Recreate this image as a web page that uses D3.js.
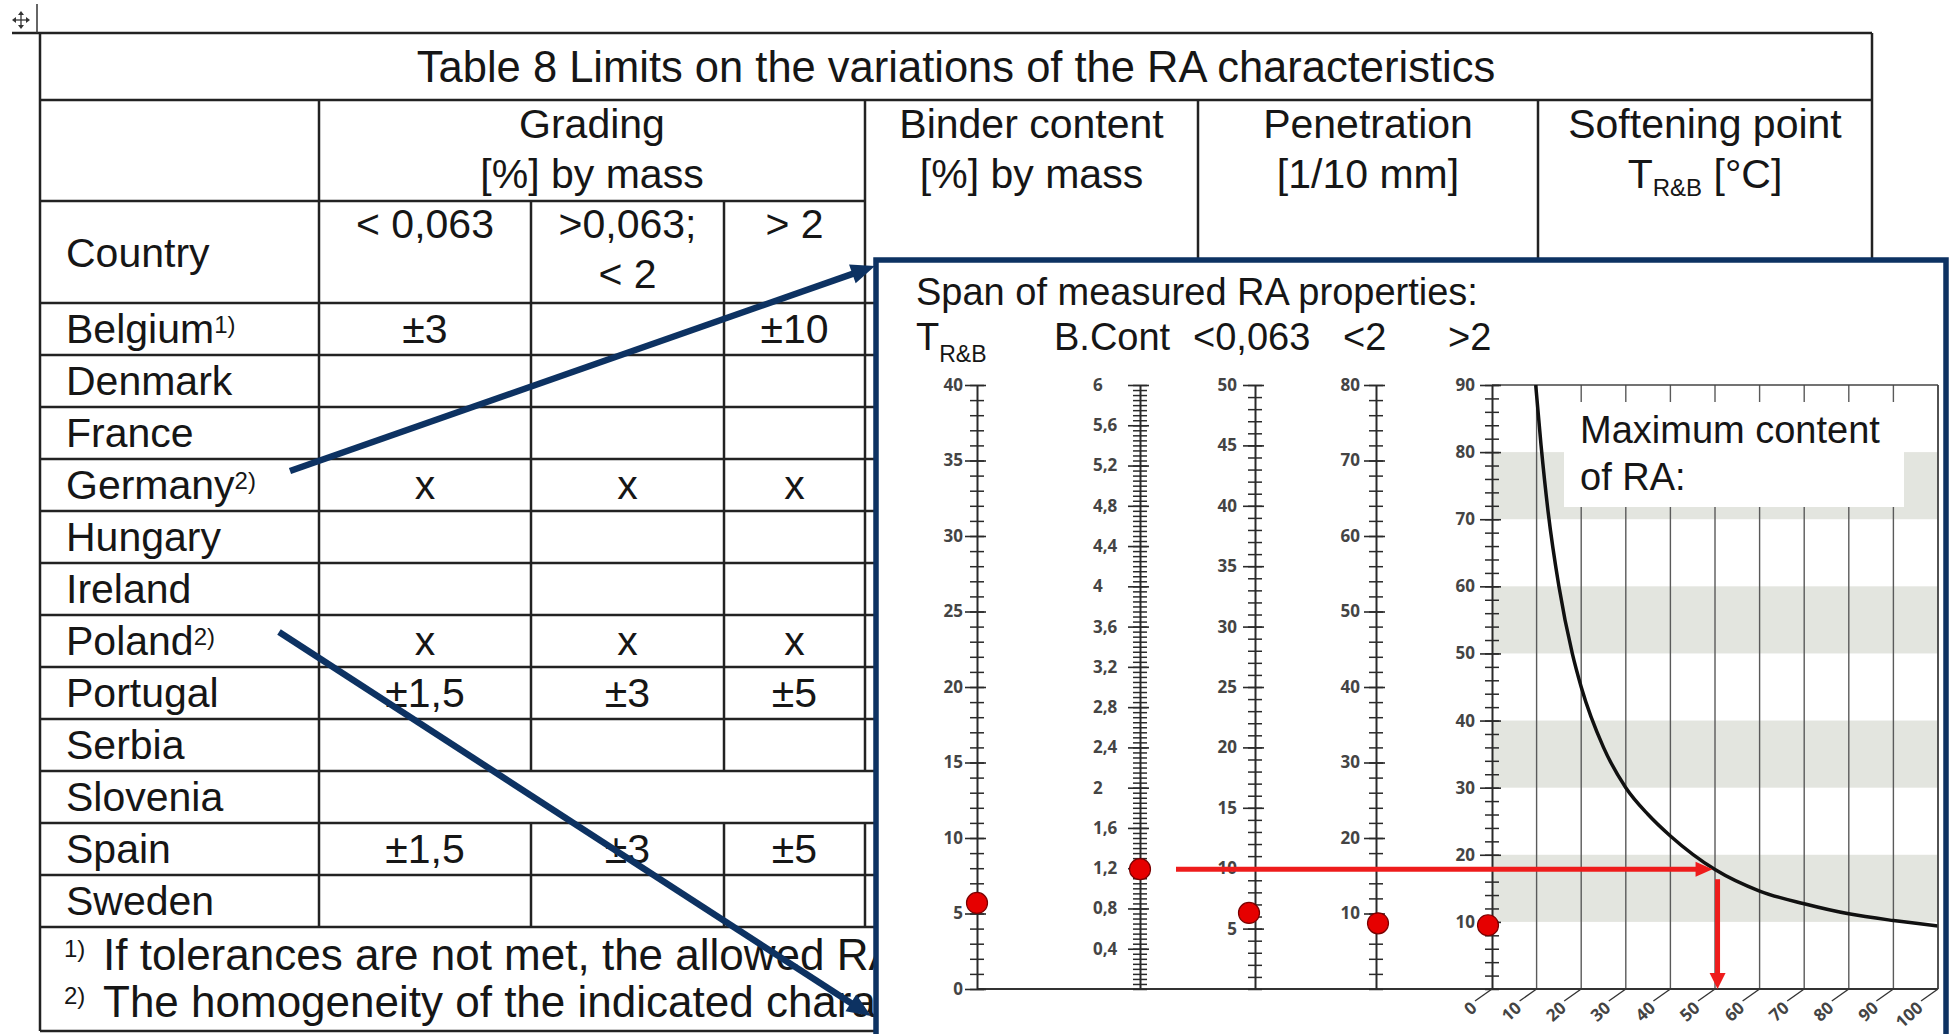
<!DOCTYPE html>
<html>
<head>
<meta charset="utf-8">
<script src="https://cdn.jsdelivr.net/npm/d3@7"></script>
<style>
  html, body { margin: 0; padding: 0; background: #fff; }
  svg { display: block; }
</style>
</head>
<body>
<svg id="fig" width="1953" height="1034"></svg>
<script>
// ---- table content ----
const tableTitle = 'Table 8 Limits on the variations of the RA characteristics';
const countries  = ['Belgium', 'Denmark', 'France', 'Germany', 'Hungary', 'Ireland',
                    'Poland', 'Portugal', 'Serbia', 'Slovenia', 'Spain', 'Sweden'];
const countryNote = ['1)', '', '', '2)', '', '', '2)', '', '', '', '', ''];
const gradeFine   = ['±3',  '', '', 'x', '', '', 'x', '±1,5', '', '', '±1,5', ''];
const gradeMid    = ['',    '', '', 'x', '', '', 'x', '±3',   '', '', '±3',   ''];
const gradeCoarse = ['±10', '', '', 'x', '', '', 'x', '±5',   '', '', '±5',   ''];
const mergedRows  = ['Slovenia'];
const footnotes = [
  ['1)', 'If tolerances are not met, the allowed RA'],
  ['2)', 'The homogeneity of the indicated charac']
];

// ---- nomogram content ----
const axisNames  = ['T', 'B.Cont', '<0,063', '<2', '>2'];
const axisMax    = [40, 6, 50, 80, 90];
const axisMinor  = [1, 0.05, 1, 2, 2];
const tTicks     = [0, 5, 10, 15, 20, 25, 30, 35, 40];
const bTicks     = [0.4, 0.8, 1.2, 1.6, 2, 2.4, 2.8, 3.2, 3.6, 4, 4.4, 4.8, 5.2, 5.6, 6];
const fineTicks  = [5, 10, 15, 20, 25, 30, 35, 40, 45, 50];
const midTicks   = [10, 20, 30, 40, 50, 60, 70, 80];
const maxTicks   = [10, 20, 30, 40, 50, 60, 70, 80, 90];
const measured   = [5.7, 1.19, 6.3, 8.7, 9.5];
const xTicks     = [0, 10, 20, 30, 40, 50, 60, 70, 80, 90, 100];
const bands      = [[10, 20], [30, 40], [50, 60], [70, 80]];
const curveX     = [9.8, 11, 12.6, 15, 18, 20, 25, 30, 35, 40, 50, 60, 70, 80, 90, 100];
const curveY     = [90, 81, 71, 60, 50, 45, 36, 30, 26, 22.8, 17.8, 14.6, 12.7, 11.2, 10.2, 9.4];

const svg  = d3.select('#fig');
const ink  = '#161616';
const navy = '#0d3262';
const sans = '"Liberation Sans", Arial, sans-serif';
const tickFont = '"Open Sans", sans-serif';

// ================= table =================
const T = svg.append('g');
const colX = [40, 319, 531, 724, 865, 1198, 1538, 1872];
const yTop = 33, yTitle = 100, yHead1 = 201, yHead2 = 303, yBody = 927, yEnd = 1031;
const rowY = d3.scaleBand().domain(countries).range([yHead2, yBody]);

const hline = (x1, x2, y) => T.append('line')
  .attr('x1', x1).attr('x2', x2).attr('y1', y).attr('y2', y)
  .attr('stroke', '#222').attr('stroke-width', 2.5);
const vline = (x, y1, y2) => T.append('line')
  .attr('x1', x).attr('x2', x).attr('y1', y1).attr('y2', y2)
  .attr('stroke', '#222').attr('stroke-width', 2.5);
const txt = (x, y, s, anchor = 'middle', size = 41, parent = T) => parent.append('text')
  .attr('x', x).attr('y', y).attr('text-anchor', anchor)
  .style('font-family', sans).style('font-size', size + 'px').style('fill', ink)
  .text(s);

// outer frame and header lines
hline(12, colX[7], yTop);
hline(colX[0], colX[7], yTitle);
hline(colX[0], colX[4], yHead1);
hline(colX[0], colX[7], yHead2);
vline(colX[0], yTop, yEnd);
vline(colX[7], yTop, yEnd);
vline(colX[1], yTitle, yHead2);
[colX[2], colX[3]].forEach(x => vline(x, yHead1, yHead2));
[colX[4], colX[5], colX[6]].forEach(x => vline(x, yTitle, yHead2));
hline(colX[0], colX[7], yEnd);

// body rows
countries.forEach((c, i) => {
  const y0 = rowY(c), y1 = y0 + rowY.bandwidth();
  hline(colX[0], colX[7], y1);
  const inner = mergedRows.includes(c) ? [colX[1], colX[6]] : colX.slice(1, 7);
  inner.forEach(x => vline(x, y0, y1));
  const t = txt(66, y0 + 40, c, 'start');
  if (countryNote[i]) t.append('tspan').attr('dy', -10).style('font-size', '24px').text(countryNote[i]);
  [gradeFine, gradeMid, gradeCoarse].forEach((col, k) => {
    if (col[i]) txt((colX[k + 1] + colX[k + 2]) / 2, y0 + 40, col[i]);
  });
});

// header texts
txt((colX[0] + colX[7]) / 2, 82, tableTitle, 'middle', 43.5);
txt((colX[1] + colX[4]) / 2, 138, 'Grading');
txt((colX[1] + colX[4]) / 2, 188, '[%] by mass');
txt((colX[4] + colX[5]) / 2, 138, 'Binder content');
txt((colX[4] + colX[5]) / 2, 188, '[%] by mass');
txt((colX[5] + colX[6]) / 2, 138, 'Penetration');
txt((colX[5] + colX[6]) / 2, 188, '[1/10 mm]');
txt((colX[6] + colX[7]) / 2, 138, 'Softening point');
const soft = txt((colX[6] + colX[7]) / 2, 188, 'T');
soft.append('tspan').attr('dy', 8).style('font-size', '24px').text('R&B');
soft.append('tspan').attr('dy', -8).text(' [°C]');
txt(66, 267, 'Country', 'start');
txt((colX[1] + colX[2]) / 2, 238, '< 0,063');
txt((colX[2] + colX[3]) / 2, 238, '>0,063;');
txt((colX[2] + colX[3]) / 2, 288, '< 2');
txt((colX[3] + colX[4]) / 2, 238, '> 2');

// footnotes (run under the overlay, clipped at its edge)
svg.append('clipPath').attr('id', 'noteClip').append('rect')
  .attr('x', 0).attr('y', yBody).attr('width', 876).attr('height', yEnd - yBody);
const F = T.append('g').attr('clip-path', 'url(#noteClip)');
footnotes.forEach((f, i) => {
  const y = 970 + i * 47;
  txt(64, y - 13, f[0], 'start', 24, F);
  txt(103, y, f[1], 'start', 44, F);
});

// move handle
const mh = svg.append('g').attr('stroke', '#333').attr('stroke-width', 1.3).attr('fill', '#333');
mh.append('line').attr('x1', 14).attr('x2', 28).attr('y1', 20).attr('y2', 20);
mh.append('line').attr('x1', 21).attr('x2', 21).attr('y1', 13).attr('y2', 27);
[[21, 11, 18, 15, 24, 15], [21, 29, 18, 25, 24, 25], [12, 20, 16, 17, 16, 23], [30, 20, 26, 17, 26, 23]]
  .forEach(p => mh.append('polygon').attr('points', `${p[0]},${p[1]} ${p[2]},${p[3]} ${p[4]},${p[5]}`).attr('stroke', 'none'));
svg.append('line').attr('x1', 37).attr('x2', 37).attr('y1', 4).attr('y2', 33)
  .attr('stroke', '#333').attr('stroke-width', 1.5);

// ================= overlay nomogram =================
svg.append('rect').attr('x', 876).attr('y', 260).attr('width', 1070).attr('height', 820)
  .attr('fill', '#fff').attr('stroke', navy).attr('stroke-width', 5.5);

function arrow(g, x1, y1, x2, y2, color, w, len, half) {
  const a = Math.atan2(y2 - y1, x2 - x1), c = Math.cos(a), s = Math.sin(a);
  const bx = x2 - len * c, by = y2 - len * s;
  g.append('line').attr('x1', x1).attr('y1', y1).attr('x2', bx + c).attr('y2', by + s)
    .attr('stroke', color).attr('stroke-width', w);
  g.append('polygon')
    .attr('points', `${x2},${y2} ${bx - half * s},${by + half * c} ${bx + half * s},${by - half * c}`)
    .attr('fill', color);
}
const A = svg.append('g');
arrow(A, 290, 471, 875, 266, navy, 6.5, 24, 10);
arrow(A, 279, 632, 871, 1016, navy, 6.5, 24, 10);

const N = svg.append('g');
const axisX = [977, 1140, 1255, 1376, 1492];
const yPlotTop = 385, yBase = 989;
const yS = axisMax.map(m => d3.scaleLinear().domain([0, m]).range([yBase, yPlotTop]));
const x = d3.scaleLinear().domain([0, 100]).range([axisX[4], 1938]);
const yM = yS[4];

// bands
N.selectAll('rect.band').data(bands).join('rect').attr('class', 'band')
  .attr('x', x(0) + 1).attr('width', x(100) - x(0) - 1)
  .attr('y', d => yM(d[1])).attr('height', d => yM(d[0]) - yM(d[1]))
  .attr('fill', '#e3e5df');

// grid
N.selectAll('line.grid').data(xTicks.slice(1)).join('line').attr('class', 'grid')
  .attr('x1', d => x(d)).attr('x2', d => x(d)).attr('y1', yPlotTop).attr('y2', yBase)
  .attr('stroke', '#5a5a5a').attr('stroke-width', 1.4);
N.append('line').attr('x1', x(0)).attr('x2', x(100)).attr('y1', yPlotTop).attr('y2', yPlotTop)
  .attr('stroke', '#444').attr('stroke-width', 1.6);

// label box
N.append('rect').attr('x', 1564).attr('y', 402).attr('width', 340).attr('height', 105).attr('fill', '#fff');
txt(1580, 443, 'Maximum content', 'start', 38, N);
txt(1580, 490, 'of RA:', 'start', 38, N);

// curve
svg.append('clipPath').attr('id', 'plotClip').append('rect')
  .attr('x', x(0)).attr('y', yPlotTop).attr('width', x(100) - x(0)).attr('height', yBase - yPlotTop);
N.append('path').datum(curveX.map((v, i) => [v, curveY[i]]))
  .attr('clip-path', 'url(#plotClip)')
  .attr('d', d3.line().x(d => x(d[0])).y(d => yM(d[1])).curve(d3.curveMonotoneX))
  .attr('fill', 'none').attr('stroke', '#111').attr('stroke-width', 3.5);

// baseline
N.append('line').attr('x1', axisX[0]).attr('x2', x(100)).attr('y1', yBase).attr('y2', yBase)
  .attr('stroke', '#333').attr('stroke-width', 2);

// vertical scales
const commaFmt = d => String(+d.toFixed(2)).replace('.', ',');
const majors = [tTicks, bTicks, fineTicks, midTicks, maxTicks];
const pads = [2, 2, 6, 4, 5];
axisMax.forEach((m, i) => {
  const g = N.append('g').attr('transform', `translate(${axisX[i]},0)`).attr('color', '#2a2a2a');
  const minors = d3.range(0, m + 1e-6, axisMinor[i]);
  g.call(d3.axisLeft(yS[i]).tickValues(minors).tickSize(7).tickSizeOuter(0).tickFormat(''));
  g.selectAll('.tick line').attr('x1', 7).attr('stroke-width', 1.5);
  g.select('.domain').attr('stroke-width', 2);
  const gm = g.append('g').call(d3.axisLeft(yS[i]).tickValues(majors[i]).tickSize(12)
    .tickPadding(pads[i]).tickFormat(commaFmt));
  gm.select('.domain').remove();
  gm.selectAll('.tick line').attr('x1', 9).attr('stroke-width', 1.6);
  gm.selectAll('.tick text')
    .style('font-family', tickFont).style('font-size', '17px')
    .style('font-weight', 'bold').attr('fill', '#444');
  if (i === 1) gm.selectAll('.tick text').attr('x', -47).attr('text-anchor', 'start');
});
N.append('line').attr('x1', x(100)).attr('x2', x(100)).attr('y1', yPlotTop).attr('y2', yBase)
  .attr('stroke', '#444').attr('stroke-width', 1.6);

// x tick labels (slanted)
const xt = N.selectAll('g.xt').data(xTicks).join('g').attr('class', 'xt');
xt.append('line').attr('x1', d => x(d)).attr('y1', yBase).attr('x2', d => x(d) - 17).attr('y2', yBase + 12)
  .attr('stroke', '#333').attr('stroke-width', 1.4);
xt.append('text')
  .attr('transform', d => `translate(${x(d) - 18},${yBase + 16}) rotate(-42)`)
  .attr('text-anchor', 'end').attr('dy', '0.35em')
  .style('font-family', tickFont).style('font-size', '17px')
  .style('font-weight', 'bold').attr('fill', '#444')
  .text(d => d);

// titles in the overlay
txt(916, 305, 'Span of measured RA properties:', 'start', 38, N);
const tl = txt(916, 350, 'T', 'start', 38, N);
tl.append('tspan').attr('dy', 12).style('font-size', '23px').text('R&B');
const nameX = [null, 1054, 1193, 1343, 1448];
axisNames.slice(1).forEach((n, k) => txt(nameX[k + 1], 350, n, 'start', 38, N));

// red reading arrows
const R = svg.append('g');
const yRead = yS[1](measured[1]);
const vRead = yM.invert(yRead);
let xi = curveX[curveX.length - 1];
for (let k = 1; k < curveX.length; k++) {
  if (curveY[k] <= vRead) {
    const t = (curveY[k - 1] - vRead) / (curveY[k - 1] - curveY[k]);
    xi = curveX[k - 1] + t * (curveX[k] - curveX[k - 1]);
    break;
  }
}
arrow(R, axisX[1] + 36, yRead, x(xi) - 2, yRead, '#ee1c1c', 5, 17, 7.5);
arrow(R, x(xi) + 3, yRead + 10, x(xi) + 3, yBase, '#ee1c1c', 5, 16, 8);

// measured dots
const dotShift = [0, 0, -6, 2, -4];
N.selectAll('circle.dot').data(measured).join('circle').attr('class', 'dot')
  .attr('cx', (d, i) => axisX[i] + dotShift[i]).attr('cy', (d, i) => yS[i](d)).attr('r', 10.5)
  .attr('fill', '#e60000').attr('stroke', '#7a0000').attr('stroke-width', 1.2);
</script>
</body>
</html>
